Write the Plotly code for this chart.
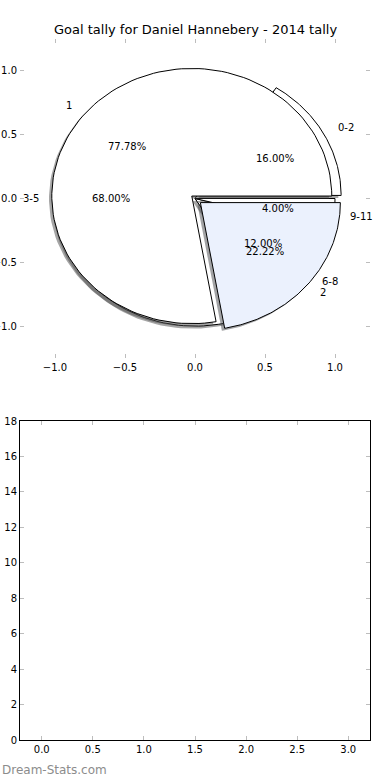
import numpy as np
import plotly.graph_objects as go

# ---- data ----
title_text = "Goal tally for Daniel Hannebery - 2014 tally"
pie1_labels = ["0-2", "3-5", "6-8", "9-11"]
pie1_values = [16, 68, 12, 4]
pie1_explode = [0.05, 0.0, 0.0, 0.0]
pie1_colors = ["#ffffff", "#ffffff", "#ffffff", "#ffffff"]

pie2_labels = ["1", "2"]
pie2_values = [7, 2]
pie2_explode = [0.03, 0.05]
pie2_colors = ["#ffffff", "#ebf1fd"]

pie_ticks = [-1.0, -0.5, 0.0, 0.5, 1.0]
bar_yticks = list(range(0, 19, 2))
bar_xticks = [0.0, 0.5, 1.0, 1.5, 2.0, 2.5, 3.0]

W, H = 390, 780
FONT = "DejaVu Sans"
fig = go.Figure()
annotations = []


def fmt(t):
    return ("%.1f" % t).replace("-", "\u2212")


def wedge_xy(cx, cy, t1, t2, r=1.0, n=120):
    th = np.linspace(np.radians(t1), np.radians(t2), n)
    xs = np.concatenate([[cx], cx + r * np.cos(th), [cx]])
    ys = np.concatenate([[cy], cy + r * np.sin(th), [cy]])
    return xs, ys


def shadow_rgba(hexcol):
    h = hexcol.lstrip("#")
    r, g, b = (int(h[i:i + 2], 16) for i in (0, 2, 4))
    return "rgba(%d,%d,%d,0.5)" % (0.3 * r, 0.3 * g, 0.3 * b)


def add_pie(values, labels, explode, colors, shadow=True):
    vals = np.array(values, dtype=float)
    fr = vals / vals.sum()
    theta1 = 0.0
    wedges = []
    for f, lab, ex, col in zip(fr, labels, explode, colors):
        theta2 = theta1 + 360.0 * f
        mid = np.radians((theta1 + theta2) / 2)
        cx, cy = ex * np.cos(mid), ex * np.sin(mid)
        wedges.append((cx, cy, theta1, theta2, col, mid, lab, f))
        theta1 = theta2
    for cx, cy, t1, t2, col, mid, lab, f in wedges:
        if shadow:
            xs, ys = wedge_xy(cx - 0.02, cy - 0.02, t1, t2)
            fig.add_trace(go.Scatter(x=xs, y=ys, mode="lines", fill="toself",
                                     fillcolor=shadow_rgba(col),
                                     line=dict(width=0, color="rgba(0,0,0,0)"),
                                     hoverinfo="skip", showlegend=False,
                                     xaxis="x", yaxis="y"))
        xs, ys = wedge_xy(cx, cy, t1, t2)
        fig.add_trace(go.Scatter(x=xs, y=ys, mode="lines", fill="toself",
                                 fillcolor=col, line=dict(width=1, color="black"),
                                 hoverinfo="skip", showlegend=False,
                                 xaxis="x", yaxis="y"))
    for cx, cy, t1, t2, col, mid, lab, f in wedges:
        lx, ly = cx + 1.1 * np.cos(mid), cy + 1.1 * np.sin(mid)
        annotations.append(dict(x=lx, y=ly, xref="x", yref="y", text=lab,
                                showarrow=False,
                                xanchor="left" if lx > 0 else "right",
                                yanchor="middle",
                                font=dict(family=FONT, size=10, color="black")))
        px, py = cx + 0.6 * np.cos(mid), cy + 0.6 * np.sin(mid)
        annotations.append(dict(x=px, y=py, xref="x", yref="y",
                                text="%.2f%%" % (100 * f), showarrow=False,
                                xanchor="center", yanchor="middle",
                                font=dict(family=FONT, size=10, color="black")))


add_pie(pie1_values, pie1_labels, pie1_explode, pie1_colors)
add_pie(pie2_values, pie2_labels, pie2_explode, pie2_colors)

# empty trace on the lower axes so it renders
fig.add_trace(go.Scatter(x=[None], y=[None], xaxis="x2", yaxis="y2",
                         showlegend=False, hoverinfo="skip"))

tickfont = dict(family=FONT, size=10, color="black")
common = dict(showgrid=False, zeroline=False, ticks="inside", ticklen=4,
              tickwidth=1, tickcolor="#bdbdbd", tickfont=tickfont,
              mirror="ticks", automargin=False, fixedrange=True)

fig.update_layout(
    template="none",
    width=W, height=H,
    margin=dict(l=0, r=0, t=0, b=0, pad=0, autoexpand=False),
    paper_bgcolor="white", plot_bgcolor="white",
    showlegend=False,
    font=dict(family=FONT, size=10, color="black"),
    xaxis=dict(domain=[20 / W, 370 / W], range=[-1.25, 1.25],
               tickvals=pie_ticks, ticktext=[fmt(t) for t in pie_ticks],
               anchor="y", showline=True, linecolor="rgba(0,0,0,0)", **common),
    yaxis=dict(domain=[1 - 358 / H, 1 - 39 / H], range=[-1.25, 1.25],
               tickvals=pie_ticks, ticktext=[fmt(t) for t in pie_ticks],
               anchor="x", showline=True, linecolor="rgba(0,0,0,0)", **common),
    xaxis2=dict(domain=[20 / W, 370 / W], range=[-0.2125, 3.2125],
                tickvals=bar_xticks, ticktext=[fmt(t) for t in bar_xticks],
                anchor="y2", showline=True, linecolor="black", linewidth=1,
                **common),
    yaxis2=dict(domain=[1 - 740 / H, 1 - 421 / H], range=[0, 18],
                tickvals=bar_yticks, ticktext=[str(t) for t in bar_yticks],
                anchor="x2", showline=True, linecolor="black", linewidth=1,
                **common),
)

annotations.append(dict(x=195 / W, y=1 - 30 / H, xref="paper", yref="paper",
                        text=title_text, showarrow=False, xanchor="center",
                        yanchor="middle",
                        font=dict(family=FONT, size=13, color="black")))
annotations.append(dict(x=0, y=1 - 770 / H, xref="paper", yref="paper",
                        text="Dream-Stats.com", showarrow=False,
                        xanchor="left", yanchor="middle",
                        font=dict(family=FONT, size=12, color="#8c8c8c")))
fig.update_layout(annotations=annotations)

fig.write_html("out.html")
